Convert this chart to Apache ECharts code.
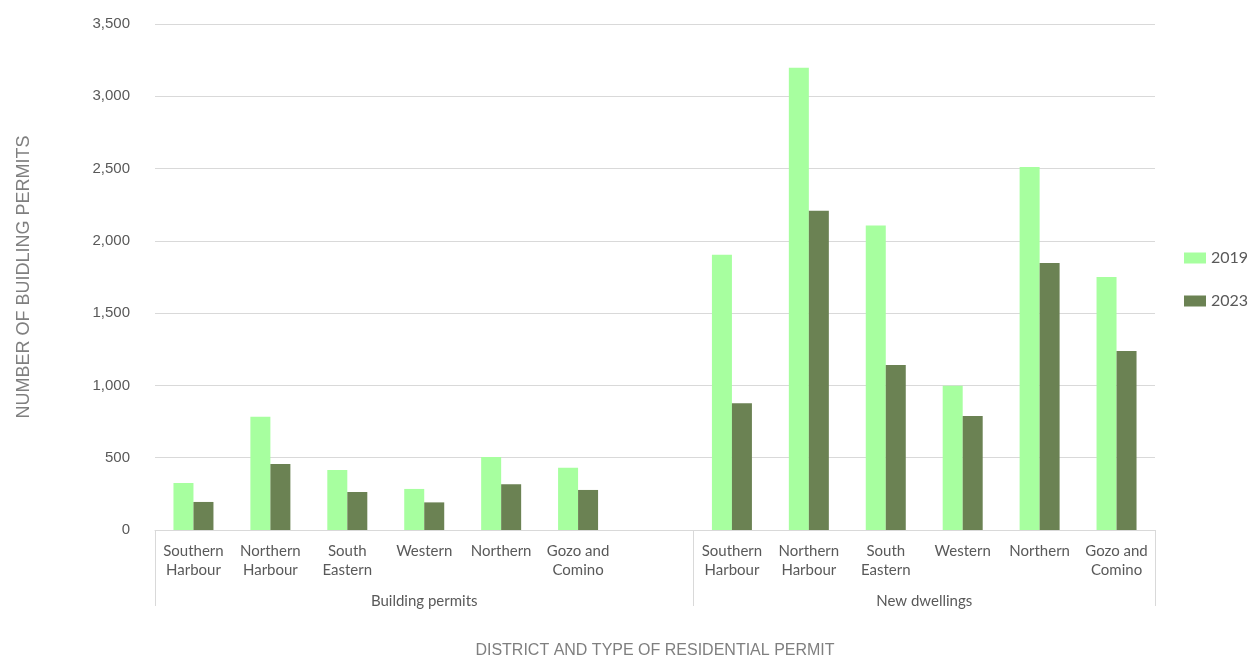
<!DOCTYPE html>
<html>
<head>
<meta charset="utf-8">
<script src="https://cdn.jsdelivr.net/npm/echarts@6/dist/echarts.min.js"></script>
<style>html,body{margin:0;padding:0;background:#fff}#c{width:1250px;height:656px}</style>
</head>
<body>
<div id="c"></div>
<script>
const categories = ['Southern\nHarbour','Northern\nHarbour','South\nEastern','Western','Northern','Gozo and\nComino','',
                    'Southern\nHarbour','Northern\nHarbour','South\nEastern','Western','Northern','Gozo and\nComino'];
const groups = ['Building permits','New dwellings'];
const groupBounds = [0, 7, 13];
const groupCenters = [3.5, 10];
const seriesNames = ['2019','2023'];
const values2019 = [325, 784, 415, 284, 505, 431, null, 1904, 3198, 2107, 998, 2511, 1750];
const values2023 = [194, 456, 263, 191, 316, 277, null, 876, 2209, 1141, 789, 1847, 1238];
const yTicks = { min: 0, max: 3500, interval: 500 };

const chart = echarts.init(document.getElementById('c'), null, {renderer:'canvas'});
chart.setOption({
  animation: false,
  backgroundColor: '#fff',
  grid: { left: 155, right: 95, top: 24, bottom: 126, containLabel: false, outerBoundsMode: 'none' },
  legend: {
    orient: 'vertical', left: 1179, top: 245, itemWidth: 22, itemHeight: 11, itemGap: 27,
    icon: 'rect',
    textStyle: { fontFamily: 'Lato', fontSize: 16, color: '#595959' },
    data: seriesNames
  },
  xAxis: [{
    type: 'category', data: categories,
    axisLine: { lineStyle: { color: '#d9d9d9', width: 1 } },
    axisTick: { show: false },
    axisLabel: { interval: 0, fontFamily: 'Lato', fontSize: 15, lineHeight: 19, color: '#595959', margin: 12 },
    name: 'DISTRICT AND TYPE OF RESIDENTIAL PERMIT', nameLocation: 'middle', nameGap: 113,
    nameTextStyle: { fontFamily: 'Liberation Sans', fontSize: 16, color: '#7f7f7f' }
  }, {
    type: 'value', min: 0, max: 13, position: 'bottom', gridIndex: 0,
    axisLine: { show: false },
    splitLine: { show: false },
    axisTick: { show: true, customValues: groupBounds, length: 76, lineStyle: { color: '#d9d9d9' } },
    axisLabel: { customValues: groupCenters, margin: 64, fontFamily: 'Lato', fontSize: 15, color: '#595959',
      formatter: function (v) { return v === groupCenters[0] ? groups[0] : groups[1]; } }
  }],
  yAxis: {
    type: 'value', min: yTicks.min, max: yTicks.max, interval: yTicks.interval,
    axisLine: { show: false }, axisTick: { show: false },
    splitLine: { lineStyle: { color: '#d9d9d9', width: 1 } },
    axisLabel: { fontFamily: 'Liberation Sans', fontSize: 15, color: '#595959', margin: 25,
      formatter: function (v) { return v.toLocaleString('en-US'); } },
    name: 'NUMBER OF BUIDLING PERMITS', nameLocation: 'middle', nameGap: 122, nameRotate: 90,
    nameTextStyle: { fontFamily: 'Liberation Sans', fontSize: 18, color: '#7f7f7f' }
  },
  series: [
    { name: seriesNames[0], type: 'bar', xAxisIndex: 0, data: values2019, barWidth: 20, barGap: '0%',
      itemStyle: { color: '#a7ff9f' } },
    { name: seriesNames[1], type: 'bar', xAxisIndex: 0, data: values2023, barWidth: 20, barGap: '0%',
      itemStyle: { color: '#6b8253' } }
  ]
});
</script>
</body>
</html>
